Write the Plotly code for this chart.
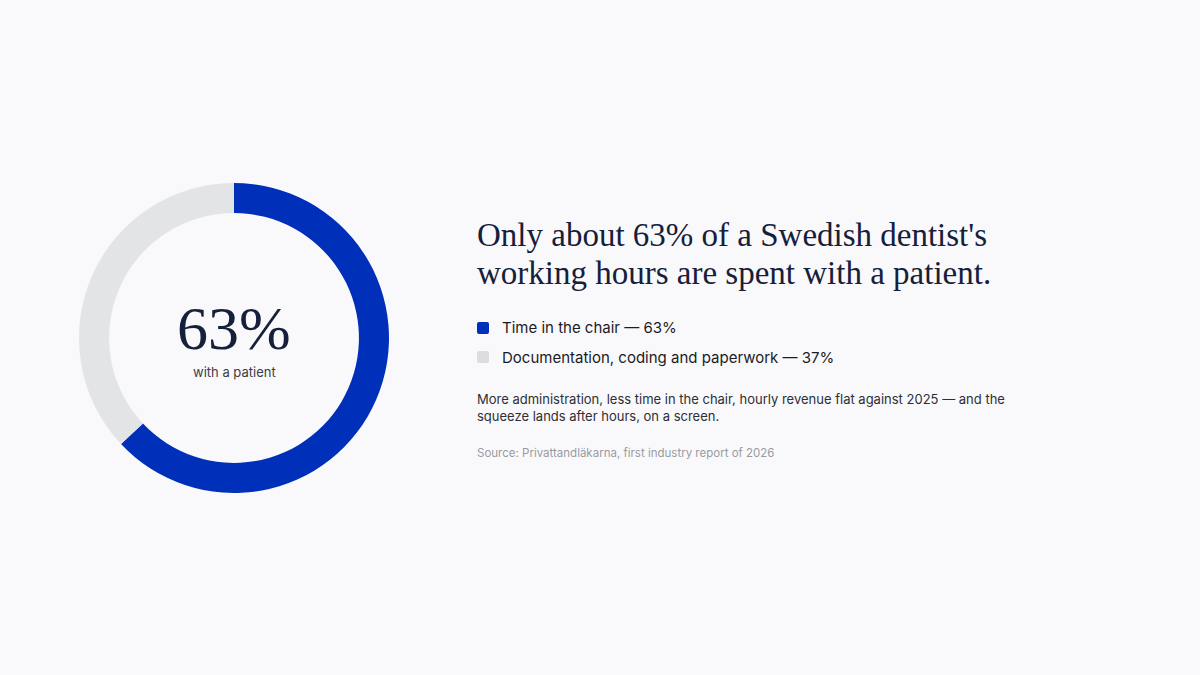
import plotly.graph_objects as go

labels = ["Time in the chair", "Documentation, coding and paperwork"]
shares = [63, 37]
colors = ["#0030b9", "#e3e4e6"]
legend_swatch = ["#0030b9", "#dcdde0"]

title_lines = ["Only about 63% of a Swedish dentist's", "working hours are spent with a patient."]
note_lines = ["More administration, less time in the chair, hourly revenue flat against 2025 — and the",
              "squeeze lands after hours, on a screen."]
source = "Source: Privattandläkarna, first industry report of 2026"

W, H = 1200, 675
bg = "#f9f9fb"
ink = "#16203a"


def py(px):
    # pixel row from top -> paper fraction
    return (H - px) / H


fig = go.Figure(go.Pie(
    labels=labels,
    values=shares,
    hole=0.806,
    sort=False,
    direction="clockwise",
    rotation=0,
    marker=dict(colors=colors, line=dict(width=0)),
    textinfo="none",
    hoverinfo="label+percent",
    domain=dict(x=[79 / W, 389 / W], y=[py(493), py(183)]),
))

# big number in the hole
fig.add_annotation(x=234 / W, y=py(328), xref="paper", yref="paper", xanchor="center",
                   text=f"{shares[0]}%", showarrow=False,
                   font=dict(family="Liberation Serif", size=62, color=ink))
fig.add_annotation(x=234 / W, y=py(372), xref="paper", yref="paper", xanchor="center",
                   text="with a patient", showarrow=False,
                   font=dict(family="Inter", size=13, color="#3d3d45"))

# headline, one annotation per line to get the tighter leading
for i, line in enumerate(title_lines):
    fig.add_annotation(x=475 / W, y=py(235 + 38 * i), xref="paper", yref="paper",
                       xanchor="left", yanchor="middle", text=line, showarrow=False,
                       font=dict(family="Liberation Serif", size=33, color=ink))

# legend rows
rounded = "M-4,-6 H4 Q6,-6 6,-4 V4 Q6,6 4,6 H-4 Q-6,6 -6,4 V-4 Q-6,-6 -4,-6 Z"
for i, (lab, val, col) in enumerate(zip(labels, shares, legend_swatch)):
    yc = py(328 + 29 * i)
    fig.add_shape(type="path", xref="paper", yref="paper",
                  xsizemode="pixel", ysizemode="pixel", xanchor=483 / W, yanchor=yc,
                  path=rounded, fillcolor=col, line=dict(width=0))
    fig.add_annotation(x=500 / W, y=yc, xref="paper", yref="paper",
                       xanchor="left", yanchor="middle", text=f"{lab} — {val}%", showarrow=False,
                       font=dict(family="Inter", size=15, color="#1b1b26"))

# note and source
fig.add_annotation(x=475 / W, y=py(407), xref="paper", yref="paper",
                   xanchor="left", yanchor="middle", align="left",
                   text="<br>".join(note_lines), showarrow=False,
                   font=dict(family="Inter", size=13, color="#2e2e36"))
fig.add_annotation(x=475 / W, y=py(453), xref="paper", yref="paper",
                   xanchor="left", yanchor="middle", align="left",
                   text=source, showarrow=False,
                   font=dict(family="Inter", size=11.5, color="#9a9aa2"))

fig.update_layout(
    width=W, height=H,
    margin=dict(l=0, r=0, t=0, b=0),
    paper_bgcolor=bg, plot_bgcolor=bg,
    showlegend=False,
)

fig.write_html("out.html", config={"displayModeBar": False},
               post_script="document.body.style.margin='0';document.body.style.background='#f9f9fb';")
